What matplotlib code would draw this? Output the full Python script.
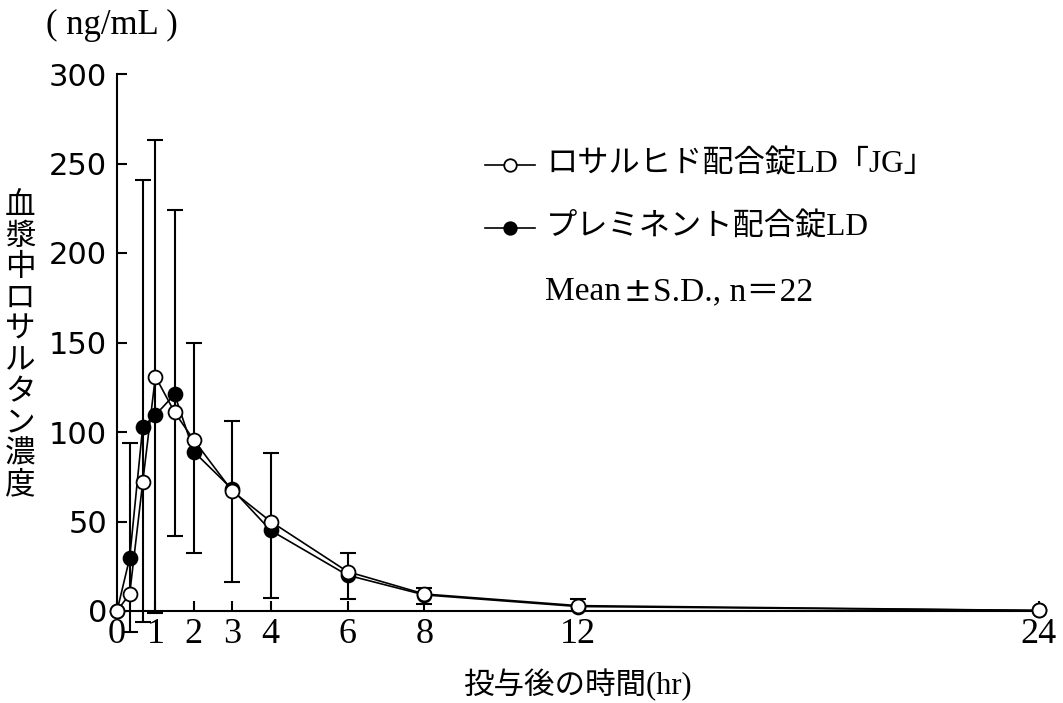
import matplotlib
matplotlib.use('Agg')
import matplotlib.pyplot as plt
import numpy as np

plt.rcParams['font.family'] = ['Noto Sans CJK JP', 'DejaVu Sans']
SERIF_JP = ['Liberation Serif', 'Noto Sans CJK JP']

# Sampling times (hr)
times = [0, 0.33, 0.67, 1, 1.5, 2, 3, 4, 6, 8, 12, 24]

# Mean plasma concentrations (ng/mL)
jg_mean = [0, 9.5, 72, 131, 111, 95.5, 67, 50, 22, 9.5, 3, 0.3]
pre_mean = [0, 29.6, 103, 109.5, 121, 89, 68, 45, 20, 9, 2.5, 0.3]

# Error bar extents
err_times = [0.33, 0.67, 1, 1.5, 2, 3, 4, 6, 8, 12]
err_top = [94, 241, 263, 224, 150, 106, 88, 32.5, 13, 6.5]
err_bottom = [-12, -6, -1, 42, 32.6, 16, 7, 6.7, 4, 0]

xticks = [0, 1, 2, 3, 4, 6, 8, 12, 24]
yticks = [0, 50, 100, 150, 200, 250, 300]

fig = plt.figure(figsize=(10.63, 7.03), dpi=100)
ax = fig.add_axes([117 / 1063, 1 - 611 / 703, (1039 - 117) / 1063, (611 - 74) / 703])

# Error bars
top = np.array(err_top)
bot = np.array(err_bottom)
mid = (top + bot) / 2
ax.errorbar(err_times, mid, yerr=[mid - bot, top - mid], fmt='none',
            ecolor='black', elinewidth=1.5, capsize=6, capthick=1.5,
            clip_on=False, zorder=2)

# Series
ax.plot(times, pre_mean, '-o', color='black', lw=1.2, ms=10,
        mfc='black', mec='black', mew=1.3, clip_on=False, zorder=3)
ax.plot(times, jg_mean, '-o', color='black', lw=1.2, ms=10,
        mfc='white', mec='black', mew=1.3, clip_on=False, zorder=4)

ax.set_xlim(0, 24)
ax.set_ylim(0, 300)
for s in ['top', 'right']:
    ax.spines[s].set_visible(False)
for s in ['left', 'bottom']:
    ax.spines[s].set_linewidth(1.5)

ax.set_xticks(xticks)
ax.set_xticklabels([str(t) for t in xticks], family='Liberation Serif', fontsize=26)
ax.set_yticks(yticks)
ax.set_yticklabels([str(t) for t in yticks], family='DejaVu Sans', fontsize=22)
ax.tick_params(axis='both', direction='in', length=7, width=1.5)
ax.tick_params(axis='x', pad=5)
ax.tick_params(axis='y', pad=7)

# Axis titles
fig.text(577 / 1063, 1 - 685 / 703, '投与後の時間(hr)', ha='center', va='center',
         fontsize=22, family=SERIF_JP)
fig.text(112 / 1063, 1 - 25 / 703, '( ng/mL )', ha='center', va='center',
         fontsize=25, family=SERIF_JP)
fig.text(20 / 1063, 1 - 345 / 703, '\n'.join('血漿中ロサルタン濃度'), ha='center',
         va='center', fontsize=22, linespacing=1.0)

# Legend drawn by hand
for y, fc, label in [(165, 'white', 'ロサルヒド配合錠LD「JG」'),
                     (228, 'black', 'プレミネント配合錠LD')]:
    yf = 1 - y / 703
    fig.add_artist(plt.Line2D([485 / 1063, 535 / 1063], [yf, yf], color='black',
                              lw=1.2, marker=None))
    fig.add_artist(plt.Line2D([510 / 1063], [yf], color='black', marker='o',
                              ms=9, mfc=fc, mec='black', mew=1.3, lw=0))
    fig.text(546 / 1063, yf, label, ha='left', va='center', fontsize=22.5,
             family=SERIF_JP)

# Note text in pieces so the plus-minus sign is full size
ny = 1 - 292 / 703
fig.text(545 / 1063, ny, 'Mean', ha='left', va='center', fontsize=24,
         family='Liberation Serif')
fig.text(637 / 1063, ny, '±', ha='center', va='center', fontsize=24,
         family='DejaVu Sans')
fig.text(653 / 1063, ny, 'S.D., n＝22', ha='left', va='center', fontsize=24,
         family=SERIF_JP)

fig.savefig('out.png', dpi=100)
